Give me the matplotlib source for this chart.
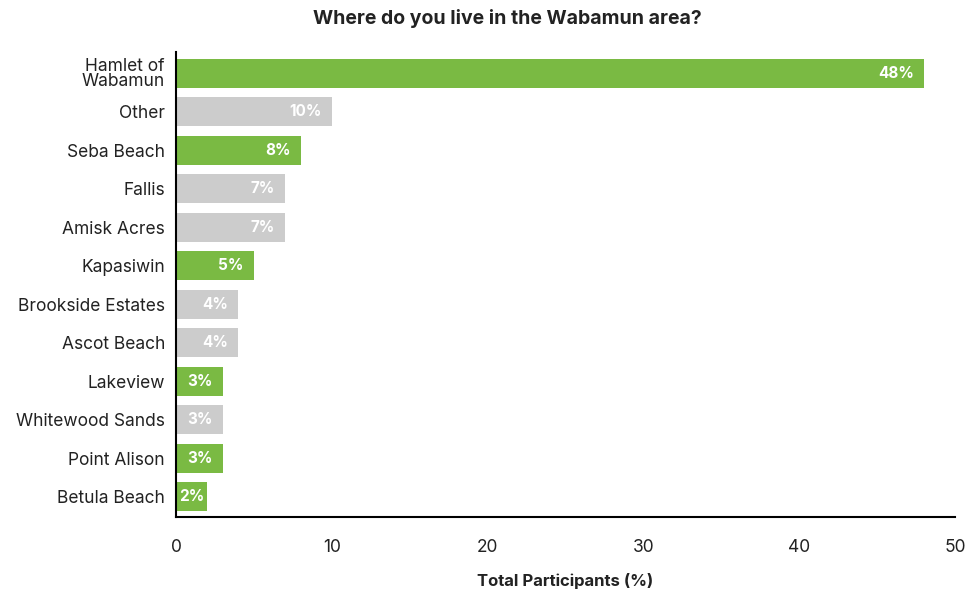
import matplotlib
matplotlib.use("Agg")
import matplotlib.pyplot as plt

categories = ["Hamlet of\nWabamun", "Other", "Seba Beach", "Fallis", "Amisk Acres",
              "Kapasiwin", "Brookside Estates", "Ascot Beach", "Lakeview",
              "Whitewood Sands", "Point Alison", "Betula Beach"]
values = [48, 10, 8, 7, 7, 5, 4, 4, 3, 3, 3, 2]
highlight = [True, False, True, False, False, True, False, False, True, False, True, True]
xticks = [0, 10, 20, 30, 40, 50]

GREEN = "#7aba43"
GREY = "#cccccc"
plt.rcParams['font.family'] = ['Inter', 'DejaVu Sans']

fig = plt.figure(figsize=(9.66, 5.92), dpi=100)
ax = fig.add_axes([176/966, 1-517/592, (955-176)/966, (517-52)/592])

ys = list(range(len(categories)))
colors = [GREEN if h else GREY for h in highlight]
bars = ax.barh(ys, values, height=0.75, color=colors)
for y, v in zip(ys, values):
    if v < 3:
        ax.text(v / 2, y, f"{v}%", ha="center", va="center", color="white",
                fontsize=11, fontweight="bold")
    else:
        ax.text(v - 0.65, y, f"{v}%", ha="right", va="center", color="white",
                fontsize=11, fontweight="bold")

ax.set_ylim(len(categories) - 0.47, -0.55)
ax.set_xlim(0, 50)
ax.set_yticks(ys)
ax.set_yticklabels(categories, fontsize=12.5, color="#222222", linespacing=0.85)
ax.set_xticks(xticks)
ax.set_xticklabels([str(t) for t in xticks], fontsize=12.5, color="#222222")
ax.tick_params(axis="y", length=0, pad=8)
ax.tick_params(axis="x", length=0, pad=16)
for s in ["top", "right"]:
    ax.spines[s].set_visible(False)
for s in ["left", "bottom"]:
    ax.spines[s].set_linewidth(1.5)
    ax.spines[s].set_color("black")
ax.set_xlabel("Total Participants (%)", fontsize=12, fontweight="bold", color="#222222", labelpad=12)
fig.suptitle("Where do you live in the Wabamun area?", x=0.525, y=0.985,
             fontsize=14, fontweight="bold", color="#222222")

fig.savefig("out.png", dpi=100)
